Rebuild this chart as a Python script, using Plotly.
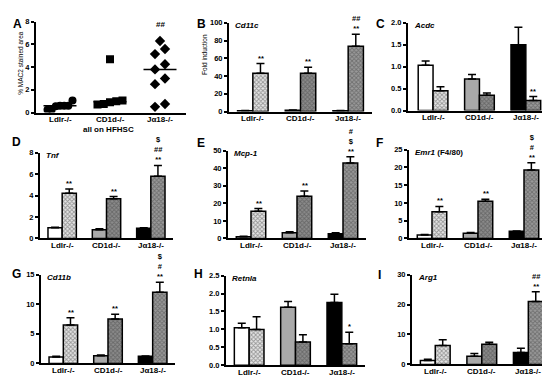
import numpy as np
import plotly.graph_objects as go

groups = ["Ldlr-/-", "CD1d-/-", "Jα18-/-"]

# ---- Panel A: % MAC2 stained area (individual mice) ----
mac2_ldlr = [0.6, 0.55, 1.05, 0.6, 0.6, 0.25, 0.25]
mac2_cd1d = [0.75, 0.7, 0.9, 1.05, 1.0, 4.7]
mac2_ja18 = [6.3, 5.6, 5.15, 4.25, 3.8, 3.0, 2.5, 0.5, 0.75]

# ---- Bar panels: chow-fed control vs HFHSC, mean and SEM ----
cd11c_ctrl = [1.0, 1.5, 1.0];      cd11c_ctrl_err = [0.3, 0.3, 0.3]
cd11c_hf = [43.0, 43.0, 73.5];     cd11c_hf_err = [11.0, 7.0, 13.5]
cd11c_sig = ["**", "**", "##<br>**"]

acdc_ctrl = [1.03, 0.72, 1.5];     acdc_ctrl_err = [0.1, 0.1, 0.4]
acdc_hf = [0.45, 0.35, 0.23];      acdc_hf_err = [0.09, 0.05, 0.09]
acdc_sig = ["", "", "**"]

tnf_ctrl = [1.0, 0.8, 0.95];       tnf_ctrl_err = [0.05, 0.1, 0.05]
tnf_hf = [4.2, 3.7, 5.8];          tnf_hf_err = [0.4, 0.2, 1.0]
tnf_sig = ["**", "**", "$<br>##<br>**"]

mcp1_ctrl = [1.0, 3.2, 2.7];       mcp1_ctrl_err = [0.2, 0.6, 0.6]
mcp1_hf = [15.5, 24.0, 43.0];      mcp1_hf_err = [1.5, 3.0, 3.5]
mcp1_sig = ["**", "**", "#<br>$<br>**"]

emr1_ctrl = [1.0, 1.5, 2.0];       emr1_ctrl_err = [0.1, 0.2, 0.1]
emr1_hf = [7.5, 10.5, 19.3];       emr1_hf_err = [1.5, 0.5, 2.0]
emr1_sig = ["**", "**", "$<br>#<br>**"]

cd11b_ctrl = [1.1, 1.3, 1.2];      cd11b_ctrl_err = [0.1, 0.1, 0.05]
cd11b_hf = [6.5, 7.5, 12.0];       cd11b_hf_err = [1.2, 0.8, 1.7]
cd11b_sig = ["**", "**", "$<br>#<br>**"]

retnla_ctrl = [1.05, 1.62, 1.75]; retnla_ctrl_err = [0.12, 0.16, 0.23]
retnla_hf = [1.0, 0.65, 0.6];      retnla_hf_err = [0.35, 0.2, 0.32]
retnla_sig = ["", "", "*"]

arg1_ctrl = [1.3, 2.7, 4.0];       arg1_ctrl_err = [0.4, 0.9, 1.4]
arg1_hf = [6.3, 6.7, 21.0];        arg1_hf_err = [1.9, 0.7, 3.3]
arg1_sig = ["", "", "##<br>**"]

bar_panels = [
    ("B", "<i>Cd11c</i>", cd11c_ctrl, cd11c_ctrl_err, cd11c_hf, cd11c_hf_err, cd11c_sig, 100, 20, None),
    ("C", "<i>Acdc</i>", acdc_ctrl, acdc_ctrl_err, acdc_hf, acdc_hf_err, acdc_sig, 2.0, 0.5, ".1f"),
    ("D", "<i>Tnf</i>", tnf_ctrl, tnf_ctrl_err, tnf_hf, tnf_hf_err, tnf_sig, 8, 2, None),
    ("E", "<i>Mcp-1</i>", mcp1_ctrl, mcp1_ctrl_err, mcp1_hf, mcp1_hf_err, mcp1_sig, 50, 10, None),
    ("F", "<i>Emr1</i> (F4/80)", emr1_ctrl, emr1_ctrl_err, emr1_hf, emr1_hf_err, emr1_sig, 25, 5, None),
    ("G", "<i>Cd11b</i>", cd11b_ctrl, cd11b_ctrl_err, cd11b_hf, cd11b_hf_err, cd11b_sig, 15, 5, None),
    ("H", "<i>Retnla</i>", retnla_ctrl, retnla_ctrl_err, retnla_hf, retnla_hf_err, retnla_sig, 2.5, 0.5, ".1f"),
    ("I", "<i>Arg1</i>", arg1_ctrl, arg1_ctrl_err, arg1_hf, arg1_hf_err, arg1_sig, 30, 10, None),
]

# ---- layout (pixel boxes: x_left, x_right, y_top, y_bottom) ----
W, H = 550, 377
boxes = {
    "A": (28, 178, 10, 103), "B": (221, 364, 11, 102), "C": (400, 535, 11, 101),
    "D": (32, 165, 144, 232), "E": (220, 358, 142, 232), "F": (401, 539, 141, 232),
    "G": (33, 167, 269, 360), "H": (218, 357, 270, 362), "I": (404, 538, 269, 361),
}
xranges = {"A": [-0.48, 2.52], "C": [-0.54, 2.37], "I": [-0.5, 2.38]}
letter_pos = {"A": (9, 12), "B": (193, 12), "C": (372, 12), "D": (8, 133), "E": (193, 134),
              "F": (371, 134), "G": (8, 268), "H": (190, 268), "I": (371, 269)}
order = ["A", "B", "C", "D", "E", "F", "G", "H", "I"]

FONT = "Liberation Sans, Arial, sans-serif"
ctrl_colors = ["#ffffff", "#a9a9a9", "#000000"]
hf_bg = ["#e6e6e6", "#8c8c8c", "#9a9a9a"]
hf_fg = ["#ffffff", "#3a3a3a", "#2a2a2a"]
OFF = 0.165

fig = go.Figure()
layout = {}
annotations = []

def px_x(p):
    return p / W

def px_y(p):
    return 1 - p / H

def note(text, x, y, xref="paper", yref="paper", size=8, xanchor="center", yanchor="middle", **kw):
    annotations.append(dict(text=text, x=x, y=y, xref=xref, yref=yref, showarrow=False,
                            xanchor=xanchor, yanchor=yanchor,
                            font=dict(family=FONT, size=size, color="black"), **kw))

for idx, key in enumerate(order):
    n = "" if idx == 0 else str(idx + 1)
    x0, x1, yt, yb = boxes[key]
    layout["xaxis" + n] = dict(
        domain=[px_x(x0), px_x(x1)], anchor="y" + n, range=xranges.get(key, [-0.5, 2.5]),
        showline=True, linecolor="black", linewidth=2, ticks="", showgrid=False, zeroline=False,
        showticklabels=False, fixedrange=True,
    )
    layout["yaxis" + n] = dict(
        domain=[px_y(yb), px_y(yt)], anchor="x" + n,
        showline=True, linecolor="black", linewidth=2, ticks="outside", ticklen=3, tickwidth=1.5,
        tickcolor="black", showgrid=False, zeroline=False,
        tickfont=dict(family=FONT, size=7.5, color="black", weight="bold"), fixedrange=True,
    )
    xa = "x" + n
    for gi, g in enumerate(groups):
        note("<b>%s</b>" % g, gi, px_y(yb + 7), xref=xa)
    lx, ly = letter_pos[key]
    note("<b>%s</b>" % key, px_x(lx), px_y(ly), size=12)

# ---- Panel A ----
def spread(vals, tol, step, maxw):
    vals = np.asarray(vals, float)
    idx = np.argsort(vals)
    offs = np.zeros(len(vals))
    clusters, cur = [], [idx[0]]
    for a, b in zip(idx[:-1], idx[1:]):
        if vals[b] - vals[a] < tol:
            cur.append(b)
        else:
            clusters.append(cur)
            cur = [b]
    clusters.append(cur)
    for c in clusters:
        k = len(c)
        w = min(step * (k - 1), maxw)
        pos = np.linspace(-w / 2, w / 2, k) if k > 1 else [0.0]
        for j, i in enumerate(c):
            offs[i] = pos[j]
    return offs

for gi, (vals, sym) in enumerate([(mac2_ldlr, "circle"), (mac2_cd1d, "square"), (mac2_ja18, "diamond")]):
    offs = spread(vals, 0.55, 0.2, 0.5)
    fig.add_trace(go.Scatter(x=gi + offs, y=vals, mode="markers", xaxis="x", yaxis="y",
                             marker=dict(symbol=sym, size=8, color="black"), showlegend=False))
    med = float(np.median(vals))
    fig.add_trace(go.Scatter(x=[gi - 0.33, gi + 0.33], y=[med, med], mode="lines", xaxis="x", yaxis="y",
                             line=dict(color="black", width=1.5), showlegend=False))
layout["yaxis"].update(range=[0, 8], tickvals=[0, 2, 4, 6, 8])
note("<b>##</b>", 2, 7.2, xref="x", yref="y", size=8, yanchor="bottom")
note("<b>all on HFHSC</b>", px_x(100), px_y(120))
note("% MAC2 stained area", px_x(13), px_y(52), size=6.5, textangle=-90)
note("Fold induction", px_x(197), px_y(44), size=6.5, textangle=-90)

# ---- Bar panels ----
for (key, gene, ctrl, ctrl_err, hf, hf_err, sig, ymax, dtick, fmt) in bar_panels:
    idx = order.index(key)
    n = str(idx + 1)
    xa, ya = "x" + n, "y" + n
    fig.add_trace(go.Bar(
        x=[0, 1, 2], y=ctrl, xaxis=xa, yaxis=ya, offsetgroup="ctrl", showlegend=False,
        marker=dict(color=ctrl_colors, line=dict(color="black", width=1.5)),
        error_y=dict(type="data", array=ctrl_err, arrayminus=[0, 0, 0], symmetric=False,
                     color="black", thickness=1.5, width=4),
    ))
    fig.add_trace(go.Bar(
        x=[0, 1, 2], y=hf, xaxis=xa, yaxis=ya, offsetgroup="hf", showlegend=False,
        marker=dict(color=hf_bg, line=dict(color="black", width=1.5),
                    pattern=dict(shape="x", fgcolor=hf_fg, size=3, solidity=0.5, fillmode="overlay")),
        error_y=dict(type="data", array=hf_err, arrayminus=[0, 0, 0], symmetric=False,
                     color="black", thickness=1.5, width=4),
    ))
    tickvals = list(np.arange(0, ymax + dtick / 2, dtick))
    ticktext = [(format(v, fmt) if fmt else "%d" % round(v)) for v in tickvals]
    layout["yaxis" + n].update(range=[0, ymax], tickvals=tickvals, ticktext=ticktext)
    for gi in range(3):
        if sig[gi]:
            note("<b>%s</b>" % sig[gi], gi + OFF, hf[gi] + hf_err[gi], xref=xa, yref=ya,
                 size=7.5, yanchor="bottom", yshift=-1)
    x0, x1, yt, yb = boxes[key]
    note("<b>%s</b>" % gene, px_x(x0 + 4), px_y(yt + 3), xanchor="left")

fig.update_layout(
    width=W, height=H, margin=dict(l=0, r=0, t=0, b=0),
    paper_bgcolor="white", plot_bgcolor="white",
    barmode="group", bargap=0.36, bargroupgap=0.0,
    annotations=annotations, showlegend=False,
    **layout,
)
fig.write_html("out.html")
